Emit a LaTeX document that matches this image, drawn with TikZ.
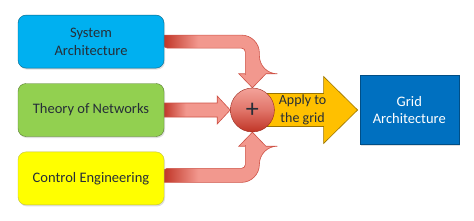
\documentclass[tikz,border=0pt]{standalone}
\usepackage{fontspec}
\setmainfont{Carlito}
\usetikzlibrary{positioning, calc, shadows, backgrounds}
\definecolor{sysblue}{RGB}{0, 176, 240}
\definecolor{netgreen}{RGB}{146, 208, 80}
\definecolor{ctlyellow}{RGB}{255, 255, 0}
\definecolor{gridblue}{RGB}{0, 112, 192}
\definecolor{applyorange}{RGB}{255, 192, 0}
\definecolor{arrowdark}{RGB}{192, 52, 38}
\definecolor{arrowlight}{RGB}{242, 152, 142}
\definecolor{arrowline}{RGB}{206, 82, 70}
\definecolor{textdark}{RGB}{38, 46, 56}
\pgfdeclarehorizontalshading{redfade}{100bp}{color(0bp)=(arrowdark); color(25bp)=(arrowdark); color(42bp)=(arrowlight); color(100bp)=(arrowlight)}

\begin{document}
\begin{tikzpicture}[
			x=1pt, y=1pt,
			node distance=15pt,
			field/.style={rectangle, draw, rounded corners=8pt, minimum width=146pt, minimum height=53pt, align=center, text=textdark, font=\fontsize{14.5}{17.5}\selectfont, drop shadow={opacity=0.25, shadow xshift=1pt, shadow yshift=-1.5pt}},
			result/.style={rectangle, draw=gridblue!70!black, fill=gridblue, text=white, minimum width=99pt, minimum height=69pt, align=center, font=\fontsize{14.5}{17.5}\selectfont, drop shadow={opacity=0.25, shadow xshift=1pt, shadow yshift=-1.5pt}},
			sumnode/.style={circle, draw=arrowdark!80!black, top color=arrowlight!90!white, bottom color=arrowdark, middle color=arrowlight!65!arrowdark, minimum size=44pt, inner sep=0pt, text=textdark, font=\fontsize{26}{26}\selectfont},
			redarrow/.style={draw=arrowline, line width=0.6pt, shading=redfade},
			bigarrow/.style={draw=applyorange!60!black, fill=applyorange, line width=0.6pt},
			label/.style={align=center, text=textdark, font=\fontsize{14}{17.5}\selectfont}
		]
		\useasboundingbox (0,0) rectangle (474,220);
		
		% Input fields
		\node[field, fill=netgreen, draw=netgreen!60!black] (net) at (91,110) {Theory of Networks};
		\node[field, fill=sysblue, draw=sysblue!55!black, above=of net] (sys) {System\\Architecture};
		\node[field, fill=ctlyellow, draw=ctlyellow!50!gray, below=of net] (ctl) {Control Engineering};
		
		% Sum and result
		\node[sumnode, right=66pt of net] (sum) {+};
		\node[result, right=85pt of sum] (grid) {Grid\\Architecture};
		\node[label] (apply) at ([xshift=28pt]sum.east) {Apply to\\the grid};
		
		% Arrows
		\begin{scope}[on background layer]
		\path[redarrow] ([xshift=-1pt,yshift=6.5pt]sys.east) [rounded corners=18pt] -| ([xshift=7pt,yshift=14pt]sum.north) [sharp corners] -- ++(6.5,0) -- (sum.north) -- ++(-13.5,14) -- ++(6.5,0) -- ++(0,-1) [rounded corners=4pt] |- ([xshift=-1pt,yshift=-6.5pt]sys.east) [sharp corners] -- cycle;
		\path[redarrow] ([xshift=-1pt,yshift=7pt]net.east) -- ([xshift=-13pt,yshift=7pt]sum.west) -- ++(0,7) -- (sum.west) -- ++(-13,-14) -- ++(0,7) -- ([xshift=-1pt,yshift=-7pt]net.east) -- cycle;
		\path[redarrow] ([xshift=-1pt,yshift=-4pt]ctl.east) [rounded corners=18pt] -| ([xshift=7pt,yshift=-14pt]sum.south) [sharp corners] -- ++(6.5,0) -- (sum.south) -- ++(-13.5,-14) -- ++(6.5,0) -- ++(0,1) [rounded corners=4pt] |- ([xshift=-1pt,yshift=10pt]ctl.east) [sharp corners] -- cycle;
		\path[bigarrow] ([yshift=16.5pt]sum.center) -- ([xshift=-36pt,yshift=16.5pt]grid.west) -- ++(0,17) -- ([xshift=-2pt]grid.west) -- ([xshift=-36pt,yshift=-33.5pt]grid.west) -- ++(0,17) -- ([yshift=-16.5pt]sum.center) -- cycle;
		\end{scope}
\end{tikzpicture}
\end{document}
